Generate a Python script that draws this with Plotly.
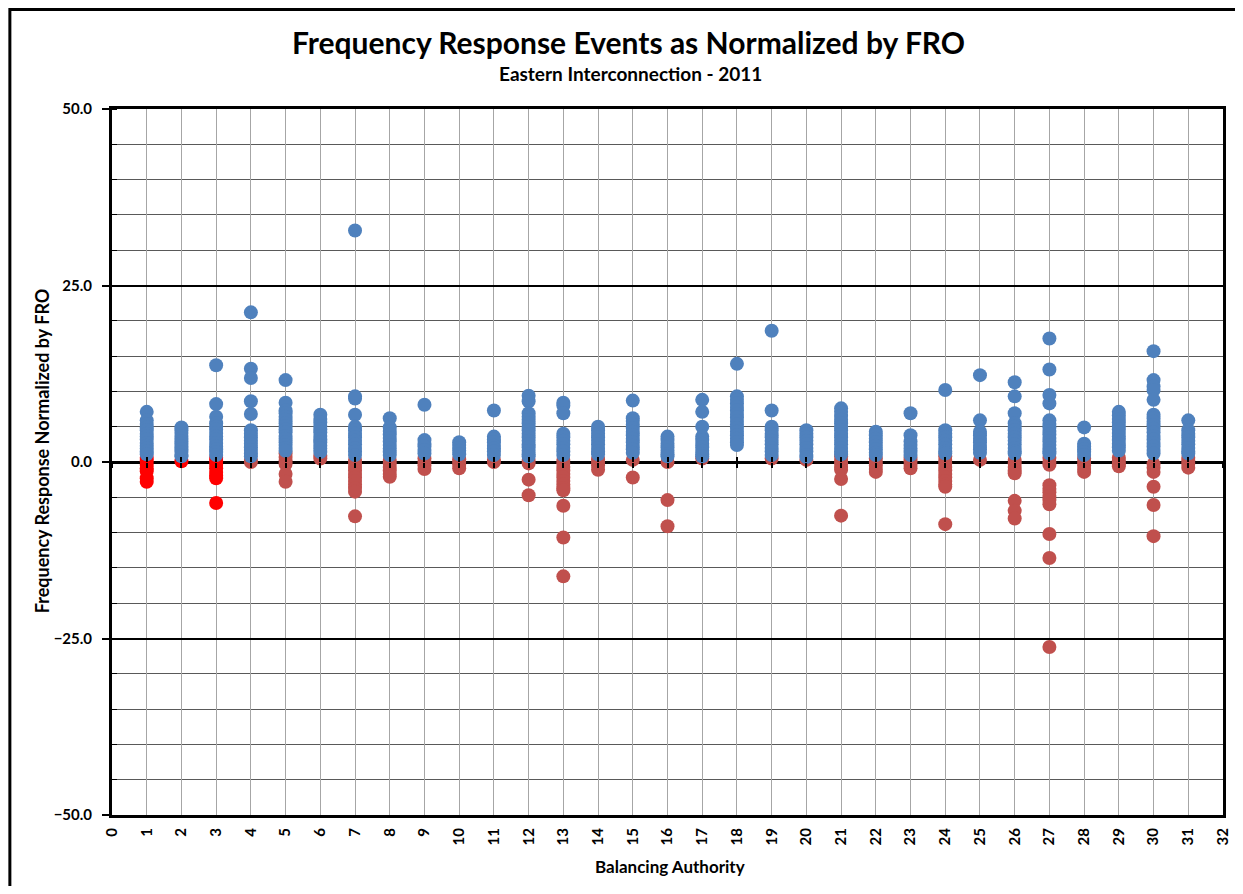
import plotly.graph_objects as go

# Balancing Authority numbers (x categories)
ba_numbers = list(range(1, 32))
x_tick_labels = [str(i) for i in range(0, 33)]
y_tick_values = [-50, -25, 0, 25, 50]

# Positive (blue) normalized responses, one list per BA 1..31
blue_values = [
    [7.1, 5.9, 5.4, 4.9, 4.5, 4.0, 3.6, 3.2, 2.7, 2.3, 1.9, 1.5, 1.1],
    [4.9, 4.5, 4.1, 3.7, 3.3, 2.9, 2.6, 2.2, 1.8, 1.4, 1.0, 0.8],
    [13.7, 8.2, 6.4, 5.5, 5.0, 4.6, 4.1, 3.6, 3.2, 2.7, 2.2, 1.8, 1.4, 1.0],
    [21.2, 13.2, 11.9, 8.6, 6.8, 4.5, 4.0, 3.5, 3.0, 2.6, 2.1, 1.7, 1.2, 0.8],
    [11.6, 8.4, 7.3, 6.9, 6.4, 6.0, 5.5, 5.1, 4.6, 4.2, 3.7, 3.3, 2.8, 2.4, 2.0, 1.6],
    [6.7, 6.1, 5.6, 5.1, 4.6, 4.2, 3.7, 3.2, 2.8, 2.3, 1.9, 1.4],
    [32.8, 9.3, 9.0, 6.7, 5.0, 4.5, 4.0, 3.5, 3.0, 2.5, 2.0, 1.5, 1.0],
    [6.2, 4.9, 4.4, 3.9, 3.4, 2.9, 2.4, 1.9, 1.4, 1.0],
    [8.1, 3.1, 2.6, 2.2, 1.7, 1.2],
    [2.8, 2.4, 2.0, 1.6, 1.1],
    [7.3, 3.6, 3.2, 2.8, 2.3, 1.9, 1.5, 1.0],
    [9.4, 8.6, 6.9, 6.4, 6.0, 5.5, 5.0, 4.5, 4.0, 3.5, 3.0, 2.5, 2.1, 1.6, 1.1, 0.8],
    [8.4, 8.0, 6.9, 4.0, 3.5, 3.0, 2.5, 2.0, 1.5, 1.0],
    [5.0, 4.5, 4.0, 3.5, 3.0, 2.5, 2.0, 1.5, 1.1],
    [8.7, 6.2, 5.8, 5.3, 4.8, 4.3, 3.8, 3.3, 2.8, 2.3, 1.8, 1.3],
    [3.6, 3.1, 2.6, 2.1, 1.6, 1.1, 0.8],
    [8.8, 7.1, 5.0, 3.6, 3.1, 2.6, 2.1, 1.6, 1.1, 0.8],
    [13.9, 9.3, 8.8, 8.3, 7.8, 7.3, 6.8, 6.3, 5.8, 5.3, 4.8, 4.3, 3.8, 3.3, 2.8, 2.4],
    [18.6, 7.3, 5.0, 4.5, 4.0, 3.5, 3.0, 2.5, 2.0, 1.5, 1.0],
    [4.5, 4.0, 3.5, 3.0, 2.5, 2.0, 1.5, 1.0, 0.7],
    [7.6, 7.1, 6.5, 6.0, 5.5, 5.0, 4.5, 4.0, 3.5, 3.0, 2.5, 2.0, 1.5, 1.1],
    [4.3, 3.8, 3.3, 2.8, 2.3, 1.8, 1.3, 1.0],
    [6.9, 3.8, 2.9, 2.4, 1.9, 1.4, 1.0],
    [10.2, 4.5, 4.0, 3.5, 3.0, 2.5, 2.0, 1.5, 1.2],
    [12.3, 5.9, 4.3, 3.8, 3.3, 2.8, 2.3, 1.8, 1.3],
    [11.3, 9.3, 6.9, 5.5, 5.0, 4.5, 4.0, 3.5, 3.0, 2.5, 2.0, 1.5, 1.2],
    [17.5, 13.1, 9.5, 8.3, 5.9, 5.4, 4.9, 4.4, 3.9, 3.4, 2.9, 2.4, 1.9, 1.5, 1.2],
    [4.9, 2.6, 2.2, 1.8, 1.4, 1.0],
    [7.1, 6.6, 6.1, 5.6, 5.1, 4.6, 4.1, 3.6, 3.1, 2.6, 2.1, 1.6],
    [15.7, 11.6, 10.7, 10.2, 8.8, 6.7, 6.2, 5.7, 5.2, 4.7, 4.2, 3.7, 3.2, 2.7, 2.2, 1.7, 1.2],
    [5.9, 4.5, 4.0, 3.5, 3.0, 2.5, 2.0, 1.5, 1.2],
]

# Negative / low (dark red) normalized responses, one list per BA 1..31
red_values = [
    [], [], [],
    [0.3, 0.0],
    [1.2, 0.7, 0.2, -0.3, -1.7, -2.8],
    [0.9, 0.5],
    [0.3, -0.2, -0.7, -1.2, -1.7, -2.2, -2.7, -3.2, -3.7, -4.2, -7.7],
    [0.3, -0.2, -0.7, -1.2, -1.7, -2.1],
    [0.5, 0.0, -0.5, -1.0],
    [0.4, 0.0, -0.4, -0.9],
    [0.3, 0.0],
    [0.3, -0.2, -2.5, -4.7],
    [0.3, -0.2, -0.7, -1.2, -1.7, -2.2, -2.7, -3.2, -3.7, -4.0, -6.2, -10.7, -16.2],
    [0.4, 0.0, -0.5, -1.1],
    [0.3, -2.2],
    [0.0, -5.4, -9.1],
    [0.5],
    [],
    [0.5],
    [0.3],
    [0.8, 0.3, -0.2, -0.7, -1.1, -2.4, -7.6],
    [0.5, 0.0, -0.5, -1.0, -1.4],
    [0.6, 0.1, -0.4, -0.9],
    [0.8, 0.3, -0.2, -0.7, -1.2, -1.7, -2.2, -2.7, -3.2, -3.5, -8.8],
    [0.3],
    [0.3, -0.2, -0.7, -1.2, -1.6, -5.5, -6.9, -8.0],
    [0.6, 0.0, -0.4, -3.3, -3.8, -4.3, -4.8, -5.4, -6.0, -10.2, -13.6, -26.2],
    [0.5, 0.0, -0.5, -1.0, -1.4],
    [0.6, 0.2, -0.3, -0.6],
    [-0.3, -0.8, -1.4, -3.5, -6.1, -10.5],
    [0.6, 0.2, -0.3, -0.8],
]

# Bright red responses (BA 1..3 only)
bright_ba = [1, 2, 3]
bright_values = [
    [0.6, 0.1, -0.4, -0.9, -1.3, -2.3, -2.8],
    [0.1],
    [0.6, 0.1, -0.4, -0.9, -1.4, -1.9, -2.3, -5.8],
]


def flatten(bas, groups):
    xs, ys = [], []
    for b, vals in zip(bas, groups):
        for v in vals:
            xs.append(b)
            ys.append(v)
    return xs, ys


rx, ry = flatten(ba_numbers, red_values)
bx, by = flatten(bright_ba, bright_values)
ux, uy = flatten(ba_numbers, blue_values)

FONT = "Lato"
OFF = 8  # page body margin
W, H = 1235, 878
ML, MR, MT, MB = 104, 16, 101, 71
PW, PH = W - ML - MR, H - MT - MB


def px_x(px):
    return (px - OFF - ML) / PW


def px_y(py):
    return (H - MB - (py - OFF)) / PH


fig = go.Figure()
msize = 14
fig.add_trace(go.Scatter(x=rx, y=ry, mode="markers", name="Negative",
                         marker=dict(color="#C0504D", size=msize, line=dict(width=0))))
fig.add_trace(go.Scatter(x=bx, y=by, mode="markers", name="Negative (BA 1-3)",
                         marker=dict(color="#FF0000", size=msize, line=dict(width=0))))
fig.add_trace(go.Scatter(x=ux, y=uy, mode="markers", name="Positive",
                         marker=dict(color="#4F81BD", size=msize, line=dict(width=0))))

tickfont = dict(family=FONT, size=15, color="black", weight="bold")

fig.update_layout(
    width=W, height=H,
    margin=dict(l=ML, r=MR, t=MT, b=MB),
    paper_bgcolor="white", plot_bgcolor="white",
    showlegend=False,
    font=dict(family=FONT, color="black"),
    xaxis=dict(
        range=[0, 32], tickmode="array", tickvals=list(range(0, 33)),
        ticktext=x_tick_labels, tickangle=-90, tickfont=tickfont,
        ticklabelstandoff=4,
        showgrid=True, gridcolor="#A6A6A6", gridwidth=1,
        zeroline=False, showline=True, linecolor="black", linewidth=3,
        mirror=True, ticks="", layer="below traces",
    ),
    xaxis2=dict(
        range=[0, 32], overlaying="x", anchor="free", position=0.5,
        tickmode="array", tickvals=list(range(0, 33)),
        showticklabels=False, showgrid=False, zeroline=False, showline=False,
        ticks="outside", ticklen=5, tickwidth=2, tickcolor="black",
    ),
    xaxis3=dict(
        range=[0, 32], overlaying="x", anchor="free", position=0.5,
        tickmode="array", tickvals=list(range(0, 33)),
        showticklabels=False, showgrid=False, zeroline=False, showline=False,
        ticks="inside", ticklen=5, tickwidth=2, tickcolor="black",
    ),
    yaxis=dict(
        range=[-50, 50], tickmode="array", tickvals=y_tick_values,
        tickformat=".1f", tickfont=tickfont, ticklabelstandoff=7,
        showgrid=True, gridcolor="black", gridwidth=2,
        zeroline=True, zerolinecolor="black", zerolinewidth=3,
        showline=True, linecolor="black", linewidth=3, mirror=True,
        ticks="outside", ticklen=7, tickwidth=2, tickcolor="black",
        minor=dict(dtick=5, tick0=0, showgrid=True, gridcolor="#595959",
                   gridwidth=1, ticks="inside", ticklen=5, tickwidth=1,
                   tickcolor="black"),
        layer="below traces",
    ),
)

# invisible traces so that the overlay axes (zero-line tick marks) are drawn
fig.add_trace(go.Scatter(x=[None], y=[None], xaxis="x2", yaxis="y",
                         showlegend=False, hoverinfo="skip"))
fig.add_trace(go.Scatter(x=[None], y=[None], xaxis="x3", yaxis="y",
                         showlegend=False, hoverinfo="skip"))

fig.add_annotation(text="Frequency Response Events as Normalized by FRO",
                   xref="paper", yref="paper", x=px_x(630), y=px_y(42),
                   xanchor="center", yanchor="middle", showarrow=False,
                   font=dict(family=FONT, size=30, color="black", weight="bold"))
fig.add_annotation(text="Eastern Interconnection - 2011",
                   xref="paper", yref="paper", x=px_x(632), y=px_y(73),
                   xanchor="center", yanchor="middle", showarrow=False,
                   font=dict(family=FONT, size=19, color="black", weight="bold"))
fig.add_annotation(text="Balancing Authority",
                   xref="paper", yref="paper", x=px_x(672), y=px_y(866),
                   xanchor="center", yanchor="middle", showarrow=False,
                   font=dict(family=FONT, size=17, color="black", weight="bold"))
fig.add_annotation(text="Frequency Response Normalized by FRO",
                   xref="paper", yref="paper", x=px_x(42), y=px_y(451),
                   xanchor="center", yanchor="middle", showarrow=False, textangle=-90,
                   font=dict(family=FONT, size=18, color="black", weight="bold"))

# outer chart frame
fig.add_shape(type="rect", xref="paper", yref="paper",
              x0=px_x(9.5), x1=px_x(1270), y0=px_y(920), y1=px_y(9.5),
              line=dict(color="black", width=3), fillcolor="rgba(0,0,0,0)",
              layer="below")

fig.write_html("out.html")
